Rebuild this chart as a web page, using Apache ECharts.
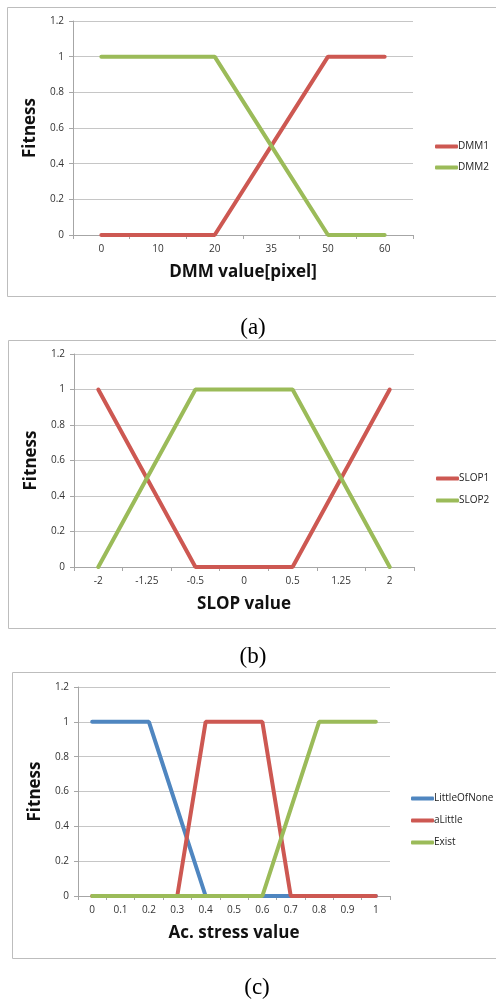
<!DOCTYPE html>
<html><head><meta charset="utf-8">
<script src="https://cdn.jsdelivr.net/npm/echarts@6/dist/echarts.min.js"></script>
<style>html,body{margin:0;padding:0;background:#fff}#c{width:496px;height:1003px}</style>
</head><body><div id="c"></div>
<script>
// ---- data ----
const catsA = ['0','10','20','35','50','60'];
const dmm1 = [0,0,0,0.5,1,1];
const dmm2 = [1,1,1,0.5,0,0];
const catsB = ['-2','-1.25','-0.5','0','0.5','1.25','2'];
const slop1 = [1,0.5,0,0,0,0.5,1];
const slop2 = [0,0.5,1,1,1,0.5,0];
const catsC = ['0','0.1','0.2','0.3','0.4','0.5','0.6','0.7','0.8','0.9','1'];
const littleOfNone = [1,1,1,0.5,0,0,0,0,0,0,0];
const aLittle = [0,0,0,0,1,1,1,0,0,0,0];
const exist = [0,0,0,0,0,0,0,0.5,1,1,1];
const xTitles = ['DMM value[pixel]','SLOP value','Ac. stress value'];
const yTitle = 'Fitness';
const panelLabels = ['(a)','(b)','(c)'];

const RED='#CD5852', GREEN='#9BBB59', BLUE='#4F86C0';
const font = 'Open Sans';
const grids = [
  {left:73, top:21, width:340, height:214},
  {left:74, top:354, width:340, height:213},
  {left:78, top:687, width:312, height:209}
];
function xAx(i, cats){
  return {type:'category', gridIndex:i, data:cats, boundaryGap:true,
    axisLine:{lineStyle:{color:'#a6a6a6'}},
    axisTick:{show:true, length:4, lineStyle:{color:'#a6a6a6'}},
    axisLabel:{color:'#333', fontSize:10, fontFamily:font, margin:9},
    name:xTitles[i], nameLocation:'middle', nameGap:37,
    nameTextStyle:{fontSize:17, fontWeight:'bold', fontFamily:font, color:'#111', verticalAlign:'middle'}};
}
function yAx(i){
  return {type:'value', gridIndex:i, min:0, max:1.2, interval:0.2,
    axisLine:{show:true, lineStyle:{color:'#a6a6a6'}},
    axisTick:{show:true, length:4, lineStyle:{color:'#a6a6a6'}},
    splitLine:{lineStyle:{color:'#c6c6c6'}},
    axisLabel:{color:'#333', fontSize:10, fontFamily:font, margin:9,
      formatter:v=>String(Math.round(v*10)/10)},
    name:yTitle, nameLocation:'middle', nameRotate:90, nameGap:37,
    nameTextStyle:{fontSize:17, fontWeight:'bold', fontFamily:font, color:'#111', verticalAlign:'middle'}};
}
function ser(name,data,i,color){
  return {name, type:'line', data, xAxisIndex:i, yAxisIndex:i, symbol:'none',
    color, lineStyle:{width:4, color, cap:'round'}, animation:false};
}
function leg(names, left, top, gap){
  return {orient:'vertical', left, top, data:names, itemWidth:23, itemHeight:4,
    itemGap:gap, icon:'roundRect',
    textStyle:{fontSize:10, fontFamily:font, color:'#222', lineHeight:13, padding:[0,0,0,-5]}};
}
const chart = echarts.init(document.getElementById('c'), null, {renderer:'canvas'});
chart.setOption({
  animation:false,
  grid:grids,
  xAxis:[xAx(0,catsA), xAx(1,catsB), xAx(2,catsC)],
  yAxis:[yAx(0), yAx(1), yAx(2)],
  legend:[leg(['DMM1','DMM2'],430,135,8), leg(['SLOP1','SLOP2'],431,467,9), leg(['LittleOfNone','aLittle','Exist'],406,787,9)],
  series:[
    ser('DMM1',dmm1,0,RED), ser('DMM2',dmm2,0,GREEN),
    ser('SLOP1',slop1,1,RED), ser('SLOP2',slop2,1,GREEN),
    ser('LittleOfNone',littleOfNone,2,BLUE), ser('aLittle',aLittle,2,RED), ser('Exist',exist,2,GREEN)
  ],
  graphic:[
    {type:'rect', shape:{x:7.5,y:7.5,width:500,height:289}, style:{fill:null, stroke:'#bdbdbd', lineWidth:1}, silent:true},
    {type:'rect', shape:{x:8.5,y:340.5,width:500,height:288}, style:{fill:null, stroke:'#bdbdbd', lineWidth:1}, silent:true},
    {type:'rect', shape:{x:12.5,y:672.5,width:500,height:286}, style:{fill:null, stroke:'#bdbdbd', lineWidth:1}, silent:true},
    {type:'text', x:253, y:328, style:{text:panelLabels[0], font:'23px "Liberation Serif"', fill:'#000', textAlign:'center', textVerticalAlign:'middle'}},
    {type:'text', x:253, y:657, style:{text:panelLabels[1], font:'23px "Liberation Serif"', fill:'#000', textAlign:'center', textVerticalAlign:'middle'}},
    {type:'text', x:257, y:988, style:{text:panelLabels[2], font:'23px "Liberation Serif"', fill:'#000', textAlign:'center', textVerticalAlign:'middle'}}
  ]
});
</script></body></html>
